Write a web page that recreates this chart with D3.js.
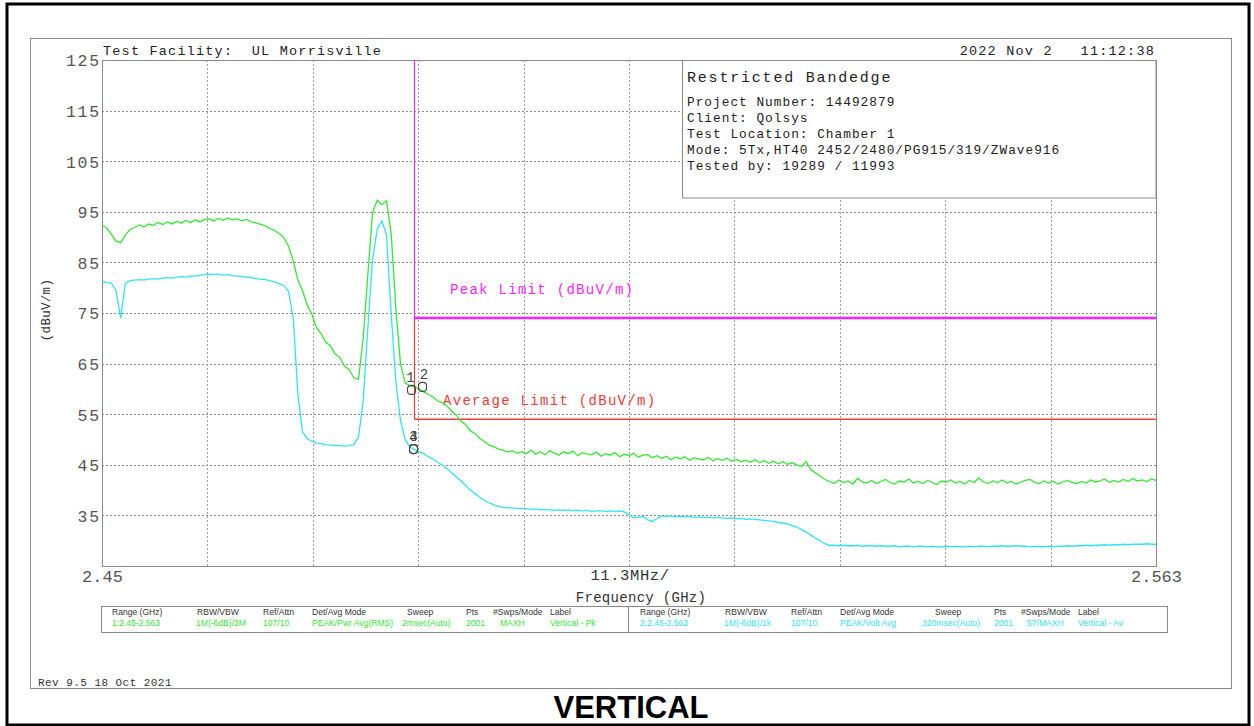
<!DOCTYPE html>
<html><head><meta charset="utf-8">
<script src="https://cdn.jsdelivr.net/npm/d3@7"></script>
<style>
html,body{margin:0;padding:0;background:#fff;}
svg{display:block;}
text{font-family:"Liberation Mono","DejaVu Sans Mono",monospace;white-space:pre;}
</style></head><body><svg id="c" width="1254" height="726"></svg>
<script>
// ---------- DATA ----------
const freqStart = 2.45, freqStop = 2.563, freqStep = 0.0005; // GHz, sample spacing of the traces
const yTicks = [35, 45, 55, 65, 75, 85, 95, 105, 115, 125];
const xTickLabels = [2.45, 2.563];
const peakLimit = 74, avgLimit = 54, bandEdge = 2.4835;

// Trace 1: Vertical - Pk (green), dBuV/m
const peakTrace = [
 92.3,91.8,90.6,89.2,88.9,90.4,91.5,
 91.9,92.4,92.0,92.6,92.3,92.9,92.5,93.0,92.6,93.1,
 92.8,93.3,92.9,93.4,93.0,93.5,93.6,93.2,93.7,93.3,
 93.8,93.4,93.6,93.2,93.5,93.0,92.8,92.5,92.2,91.7,
 91.3,90.7,89.9,
 88.2,85.3,81.5,79.4,76.6,74.8,72.1,70.9,69.2,68.5,66.9,66.2,64.5,63.8,62.2,61.9,
 70.0,82.5,94.8,97.3,96.4,97.2,90.8,76.0,65.0,61.2,60.6,60.4,60.0,
 59.4,58.9,58.4,57.6,57.3,56.6,55.6,54.8,53.6,52.9,51.7,51.2,50.2,49.6,48.9,48.6,48.1,47.9,47.5,47.8,47.3,47.6,
 47.2,47.9,47.1,47.6,47.0,47.8,47.3,46.9,47.6,47.2,
 47.7,46.8,47.4,47.1,47.0,47.5,46.7,47.2,46.9,47.4,
 46.6,47.1,46.8,47.3,46.5,46.9,47.0,46.4,46.8,
 46.3,46.7,46.0,46.5,46.2,46.6,45.9,46.4,46.1,46.0,
 46.5,45.8,46.2,45.9,46.3,45.7,46.1,45.6,45.9,45.5,
 46.0,45.4,45.8,45.3,45.7,45.2,45.6,45.1,45.4,45.0,
 44.7,45.6,44.0,43.4,42.8,42.1,41.7,
 41.3,42.0,41.5,41.8,41.2,42.3,41.6,41.4,41.9,41.3,
 41.7,42.1,41.5,41.2,41.8,41.6,42.2,41.4,41.7,41.3,
 41.9,41.5,41.1,41.8,41.6,42.0,41.4,41.7,41.2,41.9,
 41.5,42.4,41.6,41.3,41.8,41.5,42.0,41.4,41.7,41.2,
 41.6,41.9,42.1,41.5,41.3,41.8,41.4,41.7,41.2,41.6,
 41.9,41.5,41.3,41.7,41.4,42.0,41.6,41.8,42.2,41.5,
 41.9,41.6,42.1,41.7,42.3,41.8,42.0,41.7,42.2,41.9
];

// Trace 2: Vertical - Av (cyan), dBuV/m
const avgTrace = [
 81.3,81.0,80.9,79.5,74.0,80.8,81.4,
 81.5,81.6,81.5,81.7,81.8,81.7,81.9,82.0,81.9,82.1,
 82.2,82.1,82.3,82.3,82.5,82.6,82.7,82.6,82.7,82.5,
 82.6,82.4,82.3,82.2,82.1,82.0,81.8,81.7,81.6,81.4,
 81.1,80.8,80.4,
 79.3,74.0,59.0,51.5,50.2,49.6,49.3,49.2,49.0,48.9,48.8,48.8,48.7,48.8,49.0,50.5,
 57.5,72.0,85.5,91.5,93.2,90.5,75.0,61.5,53.8,50.0,48.5,48.0,47.6,
 47.2,46.6,46.1,45.5,44.9,44.2,43.4,42.6,41.8,40.9,40.0,39.3,38.6,38.0,37.5,37.1,36.8,36.6,36.5,36.5,36.4,36.4,
 36.3,36.2,36.3,36.1,36.2,36.1,36.0,36.1,36.0,36.1,
 35.9,36.0,35.9,36.0,35.8,35.9,35.9,35.8,35.9,35.8,35.9,
 35.7,35.2,34.5,34.6,34.8,34.1,33.8,34.4,
 34.9,34.8,34.9,34.7,34.8,34.7,34.8,34.6,34.7,34.6,
 34.6,34.5,34.6,34.5,34.4,34.5,34.3,34.4,34.2,34.3,
 34.2,34.1,34.0,33.9,33.8,33.6,33.5,33.3,33.0,32.7,
 32.2,31.7,31.1,30.5,30.0,29.4,29.1,
 29.1,29.0,29.1,29.0,29.0,29.1,28.9,29.0,29.0,28.9,
 29.0,28.9,28.9,29.0,28.8,28.9,28.9,28.8,28.9,28.9,
 28.8,28.9,28.8,28.8,28.9,28.8,28.9,28.8,28.8,28.9,
 28.8,28.9,28.9,28.8,28.9,28.9,29.0,28.9,28.9,29.0,
 28.9,28.9,28.8,28.9,28.8,28.8,28.9,28.8,28.9,28.9,
 29.0,28.9,29.0,29.0,29.1,29.0,29.1,29.1,29.2,29.1,
 29.2,29.2,29.3,29.2,29.3,29.3,29.3,29.4,29.3,29.3
];

const markers = [
  {label: "1", f: 2.4834, v: 59.8, dx: -2},
  {label: "2", f: 2.4841, v: 60.4, dx: 2.5},
  {label: "3", f: 2.4834, v: 48.1, dx: 0},
  {label: "4", f: 2.4834, v: 48.1, dx: 0}
];

const infoLines = ["Project Number: 14492879", "Client: Qolsys", "Test Location: Chamber 1",
  "Mode: 5Tx,HT40 2452/2480/PG915/319/ZWave916", "Tested by: 19289 / 11993"];

const tableHeaders = ["Range (GHz)", "RBW/VBW", "Ref/Attn", "Det/Avg Mode", "Sweep", "Pts", "#Swps/Mode", "Label"];
const tableRow1 = ["1:2.45-2.563", "1M(-6dB)/3M", "107/10", "PEAK/Pwr Avg(RMS)", "2msec(Auto)", "2001", "MAXH", "Vertical - Pk"];
const tableRow2 = ["2:2.45-2.563", "1M(-6dB)/1k", "107/10", "PEAK/Volt Avg", "320msec(Auto)", "2001", "57/MAXH", "Vertical - Av"];

// ---------- LAYOUT ----------
const L = 102, R = 1156, T = 60, B = 566;
const green = "#33e833", cyan = "#2fe4f2", magenta = "#ff22ff", red = "#f03a3a";
const svg = d3.select("#c");

const x = d3.scaleLinear().domain([freqStart, freqStop]).range([L, R]);
const y = d3.scaleLinear().domain([25, 125]).range([B, T]);

function txt(g, s, px, py, o) {
  o = o || {};
  const t = g.append("text").attr("x", px).attr("y", py).text(s)
    .attr("font-size", o.fs || 14).attr("fill", o.fill || "#222");
  if (o.ls) t.attr("letter-spacing", o.ls);
  if (o.anchor) t.attr("text-anchor", o.anchor);
  if (o.family) t.style("font-family", o.family);
  if (o.weight) t.attr("font-weight", o.weight);
  return t;
}

// outer frames
svg.append("rect").attr("x", 7).attr("y", 4).attr("width", 1242).attr("height", 721)
  .attr("fill", "none").attr("stroke", "#000").attr("stroke-width", 3);
svg.append("rect").attr("x", 30.5).attr("y", 38.5).attr("width", 1201).attr("height", 650)
  .attr("fill", "none").attr("stroke", "#8a8a8a").attr("stroke-width", 1);

// grid
const grid = svg.append("g");
const xDiv = d3.range(1, 10).map(k => freqStart + k * (freqStop - freqStart) / 10);
grid.selectAll("line.h").data(yTicks.filter(v => v < 125)).join("line")
  .attr("x1", L).attr("x2", R).attr("y1", d => Math.round(y(d)) + 0.5).attr("y2", d => Math.round(y(d)) + 0.5)
  .attr("stroke", "#8c8c8c").attr("stroke-dasharray", "2,2");
grid.selectAll("line.v").data(xDiv).join("line")
  .attr("y1", T).attr("y2", B).attr("x1", d => Math.round(x(d)) + 0.5).attr("x2", d => Math.round(x(d)) + 0.5)
  .attr("stroke", "#a0a0a0").attr("stroke-dasharray", "2,2");

// plot frame
svg.append("rect").attr("x", L + 0.5).attr("y", T + 0.5).attr("width", R - L).attr("height", B - T)
  .attr("fill", "none").attr("stroke", "#8a8a8a");

// y axis labels
const yAx = svg.append("g").attr("transform", `translate(${L},0)`)
  .call(d3.axisLeft(y).tickValues(yTicks).tickSize(0).tickPadding(1).tickFormat(d3.format("d")));
yAx.select(".domain").remove();
yAx.selectAll("text").attr("font-size", 16.5).attr("fill", "#555").attr("letter-spacing", 1.8)
  .style("font-family", '"Liberation Mono", monospace').attr("dy", "0.36em");

// x axis labels
const xAx = svg.append("g").attr("transform", `translate(0,${B})`)
  .call(d3.axisBottom(x).tickValues(xTickLabels).tickSize(0).tickPadding(4).tickFormat(d => String(d)));
xAx.select(".domain").remove();
xAx.selectAll("text").attr("font-size", 17).attr("fill", "#555")
  .style("font-family", '"Liberation Mono", monospace');

// info box
svg.append("rect").attr("x", 682.5).attr("y", T + 0.5).attr("width", R - 682.5).attr("height", 137.5)
  .attr("fill", "#fff").attr("stroke", "#8a8a8a");
txt(svg, "Restricted Bandedge", 687, 82, {fs: 15, ls: 1.8});
infoLines.forEach((s, i) => txt(svg, s, 687, 106 + i * 16, {fs: 12.8, ls: 1.0}));

// header texts
txt(svg, "Test Facility:  UL Morrisville", 103, 55, {fs: 13.5, ls: 1.2});
txt(svg, "2022 Nov 2   11:12:38", 1155, 55, {fs: 13.5, ls: 1.2, anchor: "end"});

// limits
const lim = svg.append("g");
lim.append("line").attr("x1", x(bandEdge)).attr("x2", x(bandEdge)).attr("y1", y(peakLimit)).attr("y2", y(avgLimit))
  .attr("stroke", red).attr("stroke-width", 1.2);
lim.append("line").attr("x1", x(bandEdge)).attr("x2", x(freqStop)).attr("y1", y(avgLimit)).attr("y2", y(avgLimit))
  .attr("stroke", red).attr("stroke-width", 1.5);
lim.append("line").attr("x1", x(bandEdge)).attr("x2", x(bandEdge)).attr("y1", T).attr("y2", y(peakLimit))
  .attr("stroke", magenta).attr("stroke-width", 1.2);
lim.append("line").attr("x1", x(bandEdge)).attr("x2", x(freqStop)).attr("y1", y(peakLimit)).attr("y2", y(peakLimit))
  .attr("stroke", magenta).attr("stroke-width", 2.5);
txt(svg, "Peak Limit (dBuV/m)", 450, 294, {fs: 14, ls: 1.3, fill: magenta});
txt(svg, "Average Limit (dBuV/m)", 443, 405, {fs: 14, ls: 1.3, fill: red});

// traces
const line = d3.line().x((d, i) => x(freqStart + i * freqStep)).y(d => y(d));
svg.append("path").datum(avgTrace).attr("d", line).attr("fill", "none").attr("stroke", cyan).attr("stroke-width", 1.3);
svg.append("path").datum(peakTrace).attr("d", line).attr("fill", "none").attr("stroke", green).attr("stroke-width", 1.3);

// markers
const mk = svg.append("g");
markers.forEach(m => {
  mk.append("rect").attr("x", x(m.f) + m.dx - 4).attr("y", y(m.v) - 4.5).attr("width", 8).attr("height", 9)
    .attr("rx", 3.5).attr("fill", "none").attr("stroke", "#444").attr("stroke-width", 1.1);
  txt(mk, m.label, x(m.f) + m.dx * 1.6, y(m.v) - 8, {fs: 14, fill: "#444", anchor: "middle"});
});

// axis titles
txt(svg, "11.3MHz/", 630, 580, {fs: 15.5, ls: 0.6, fill: "#333", anchor: "middle"});
txt(svg, "Frequency (GHz)", 641, 602, {fs: 14, ls: 0.3, fill: "#333", anchor: "middle"});
txt(svg, "(dBuV/m)", 0, 0, {fs: 12.5, ls: 0.3, fill: "#333", anchor: "middle"})
  .attr("transform", "translate(50,310) rotate(-90)");

// settings table
const tb = svg.append("g");
tb.append("rect").attr("x", 101.5).attr("y", 606.5).attr("width", 1066).attr("height", 26)
  .attr("fill", "none").attr("stroke", "#8a8a8a");
tb.append("line").attr("x1", 628.5).attr("x2", 628.5).attr("y1", 606.5).attr("y2", 632.5).attr("stroke", "#8a8a8a");
const hdrX1 = [112, 197, 263, 312, 407, 466, 493, 550];
const valX1 = [112, 196, 263, 312, 402, 466, 500, 550];
const half2 = 528;
const valX2 = [640, 724, 791, 840, 922, 994, 1027, 1078];
const tf = '"Liberation Sans", Arial, sans-serif';
function cell(s, px, py, color) {
  const t = txt(tb, s, px, py, {fs: 9.5, fill: color, family: tf});
  const w = t.node().getComputedTextLength();
  t.attr("textLength", w * 0.9).attr("lengthAdjust", "spacingAndGlyphs");
}
tableHeaders.forEach((s, i) => { cell(s, hdrX1[i], 615, "#333"); cell(s, hdrX1[i] + half2, 615, "#333"); });
tableRow1.forEach((s, i) => cell(s, valX1[i], 626, green));
tableRow2.forEach((s, i) => cell(s, valX2[i], 626, cyan));

// footer
txt(svg, "Rev 9.5 18 Oct 2021", 38, 686, {fs: 11, ls: 0.45, fill: "#333"});
txt(svg, "VERTICAL", 631, 718, {fs: 31, weight: "bold", fill: "#000", anchor: "middle",
  family: '"Liberation Sans", Arial, sans-serif'});
</script></body></html>
